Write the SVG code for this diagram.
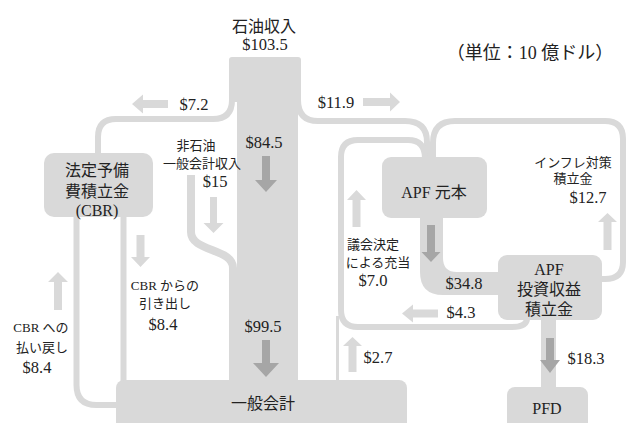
<svg xmlns="http://www.w3.org/2000/svg" width="627" height="423" viewBox="0 0 627 423">
<style>
.box{fill:#d9d9d9}
.band{fill:none;stroke:#d9d9d9;stroke-width:6}
.lt{fill:#d9d9d9}
.dk{fill:#a6a6a6}
text{font-family:"Liberation Serif","DejaVu Serif","Noto Sans CJK JP",serif;fill:#222;text-anchor:middle}
.v{font-size:16.5px}
.b{font-size:16px}
.s{font-size:13px}
.u{font-size:18px}
</style>
<rect width="627" height="423" fill="#ffffff"/>
<g id="connectors">
<path class="band" d="M232,92 L232,100 Q232,119 213,119 L116,119 Q98,119 98,137 L98,156"/>
<path class="band" d="M298,92 L298,100 Q298,121 318,121 L405,121 Q427,121 427,142 L427,158"/>
<path class="band" d="M433,158 L433,143 Q433,121 455,121 L605,121 Q623,121 623,139 L623,262 Q623,279 605,279 L600,279"/>
<path class="band" d="M527,318 Q527,327 512,327 L358,327 Q341,327 341,310 L341,157 Q341,140 358,140 L408,140 Q425,140 425,158"/>
<path class="band" style="stroke-width:3" d="M337.5,382 L337.5,316"/>
<path class="band" style="stroke-width:8" d="M191,175 L191,232 C191,252 233,248 233,268 L233,276"/>
<path class="band" d="M123.5,215 L123.5,382"/>
<path class="band" d="M76.5,215 L76.5,385 Q76.5,405 96.5,405 L119,405"/>
<path class="box" d="M420,216 L420,272 Q420,295 443,295 L500,295 L500,272 L457,272 Q443,272 443,258 L443,216 Z"/>
<rect class="box" x="541" y="318" width="15" height="71"/>
</g>
<g id="oil">
<rect class="box" x="229" y="57" width="72" height="45" rx="3"/>
<rect class="box" x="237" y="60" width="61" height="322"/>
<rect class="box" x="229" y="268" width="69" height="114"/>
</g>
<g id="cbr">
<rect class="box" x="44" y="153" width="109" height="64" rx="10"/>
<text class="b" x="97" y="176">法定予備</text>
<text class="b" x="97" y="197">費積立金</text>
<text class="b" x="97" y="216">(CBR)</text>
</g>
<g id="general">
<rect class="box" x="116" y="380" width="291" height="55" rx="8"/>
<text class="b" x="263" y="409">一般会計</text>
</g>
<g id="apf">
<rect class="box" x="382" y="157" width="105" height="61" rx="9"/>
<text class="b" x="434" y="198">APF 元本</text>
</g>
<g id="earnings">
<rect class="box" x="498" y="255" width="104" height="65" rx="9"/>
<text class="b" x="549" y="275">APF</text>
<text class="b" x="549" y="295">投資収益</text>
<text class="b" x="549" y="315">積立金</text>
</g>
<g id="pfd">
<rect class="box" x="507" y="387" width="81" height="45" rx="8"/>
<text class="b" x="547" y="414">PFD</text>
</g>
<g id="arrows">
<polygon class="lt" points="132,104 143,94.5 143,100 168,100 168,108 143,108 143,113.5"/>
<polygon class="lt" points="363,98 390,98 390,92.5 400,102 390,111.5 390,106 363,106"/>
<polygon class="lt" points="210,197 217,197 217,223 223.5,223 213.5,233 203.5,223 210,223"/>
<polygon class="lt" points="136.5,235 144.5,235 144.5,257 150,257 140.5,267 131,257 136.5,257"/>
<polygon class="lt" points="54,310 62,310 62,282 68,282 58,272 48,282 54,282"/>
<polygon class="lt" points="352.5,227 360.5,227 360.5,200 366,200 356.5,190 347,200 352.5,200"/>
<polygon class="lt" points="603.5,250 611.5,250 611.5,222 617,222 607.5,213 598,222 603.5,222"/>
<polygon class="lt" points="402,313.5 413,304.5 413,309.5 438,309.5 438,317.5 413,317.5 413,322.5"/>
<polygon class="lt" points="348.5,372 356.5,372 356.5,346 362,346 352.5,337 343,346 348.5,346"/>
<polygon class="dk" points="262,156 270,156 270,180 277,180 266,192 255,180 262,180"/>
<polygon class="dk" points="262,340 270,340 270,363 279,363 266,377 253,363 262,363"/>
<polygon class="dk" points="427,225 435,225 435,252 440.5,252 431,262 421.5,252 427,252"/>
<polygon class="dk" points="546,338 554,338 554,360 560,360 550,373 540,360 546,360"/>
</g>
<g id="labels">
<text class="b" x="264" y="32">石油収入</text>
<text class="v" x="265" y="50">$103.5</text>
<text class="u" x="530" y="59">（単位：10 億ドル）</text>
<text class="v" x="194" y="110">$7.2</text>
<text class="v" x="336" y="108">$11.9</text>
<text class="v" x="264" y="148">$84.5</text>
<text class="s" x="196" y="150">非石油</text>
<text class="s" x="202" y="168">一般会計収入</text>
<text class="v" x="215" y="187">$15</text>
<text class="s" x="165" y="290">CBR からの</text>
<text class="s" x="165" y="308">引き出し</text>
<text class="v" x="163" y="330">$8.4</text>
<text class="s" x="41" y="332">CBR への</text>
<text class="s" x="42" y="352">払い戻し</text>
<text class="v" x="37" y="373">$8.4</text>
<text class="v" x="263" y="332">$99.5</text>
<text class="s" x="373" y="249">議会決定</text>
<text class="s" x="378" y="267">による充当</text>
<text class="v" x="373" y="286">$7.0</text>
<text class="v" x="464" y="289">$34.8</text>
<text class="v" x="461" y="318">$4.3</text>
<text class="v" x="378" y="363">$2.7</text>
<text class="v" x="586" y="364">$18.3</text>
<text class="s" x="573" y="167">インフレ対策</text>
<text class="s" x="573" y="183">積立金</text>
<text class="v" x="588" y="203">$12.7</text>
</g>
</svg>
